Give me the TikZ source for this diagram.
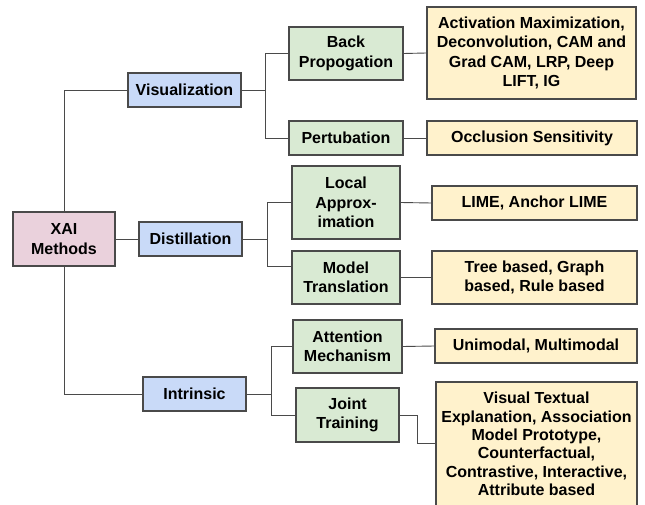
\documentclass[tikz,border=0pt]{standalone}
\usepackage{fontspec}
\setmainfont{Liberation Sans}
\definecolor{linec}{HTML}{4A4A4A}
\definecolor{rootfill}{HTML}{EAD1DC}
\definecolor{l1fill}{HTML}{C9DAF8}
\definecolor{l2fill}{HTML}{D9EAD3}
\definecolor{l3fill}{HTML}{FFF2CC}
\tikzset{
  box/.style={draw=linec, line width=1.1pt, inner sep=0pt, align=center,
    font=\fontsize{16}{19.5}\selectfont\bfseries},
  rootbox/.style={box, fill=rootfill},
  lonebox/.style={box, fill=l1fill},
  ltwobox/.style={box, fill=l2fill},
  lthreebox/.style={box, fill=l3fill},
  conn/.style={draw=linec, line width=0.9pt}
}
\begin{document}
\begin{tikzpicture}[x=1pt,y=-1pt]
\useasboundingbox (0,0) rectangle (645,505);
\clip (0,0) rectangle (645,505);
\fill[white] (0,0) rectangle (645,505);
% root
\node[rootbox, minimum width=102pt, minimum height=54pt] (xai) at (64,239) {XAI\\Methods};
% level 1
\node[lonebox, minimum width=113pt, minimum height=34pt] (vis) at (184.5,90) {Visualization};
\node[lonebox, minimum width=103pt, minimum height=34pt] (dist) at (190.5,239) {Distillation};
\node[lonebox, minimum width=103pt, minimum height=34pt] (intr) at (194.5,394) {Intrinsic};
% level 2
\node[ltwobox, minimum width=114pt, minimum height=53pt] (bp) at (346,53.5) {Back\\Propogation};
\node[ltwobox, minimum width=114pt, minimum height=34pt] (pert) at (346,138) {Pertubation};
\node[ltwobox, minimum width=108pt, minimum height=73pt] (la) at (346,202.5) {Local\\Approx-\\imation};
\node[ltwobox, minimum width=108pt, minimum height=53pt] (mt) at (346,277.5) {Model\\Translation};
\node[ltwobox, minimum width=109pt, minimum height=53pt] (am) at (347.5,346.5) {Attention\\Mechanism};
\node[ltwobox, minimum width=103pt, minimum height=54pt] (jt) at (347.5,415) {Joint\\Training};
% level 3
\node[lthreebox, minimum width=209pt, minimum height=92pt] (act) at (531.5,53) {Activation Maximization,\\Deconvolution, CAM and\\Grad CAM, LRP, Deep\\LIFT, IG};
\node[lthreebox, minimum width=210pt, minimum height=34pt] (occ) at (532,138) {Occlusion Sensitivity};
\node[lthreebox, minimum width=205pt, minimum height=34pt] (lime) at (534.5,203) {LIME, Anchor LIME};
\node[lthreebox, minimum width=205pt, minimum height=53pt] (tree) at (534.5,277.5) {Tree based, Graph\\based, Rule based};
\node[lthreebox, minimum width=202pt, minimum height=34pt] (uni) at (536,346) {Unimodal, Multimodal};
\node[lthreebox, minimum width=201pt, minimum height=124pt,
  font=\fontsize{16}{18.3}\selectfont\bfseries] (vt) at (536.5,444) {Visual Textual\\Explanation, Association\\Model Prototype,\\Counterfactual,\\Contrastive, Interactive,\\Attribute based};
% connectors root
\draw[conn] (xai.north) |- (vis.west);
\draw[conn] (xai.east) -- (dist.west);
\draw[conn] (xai.south) |- (intr.west);
% visualization
\coordinate (jv) at (265,90);
\draw[conn] (vis.east) -- (jv) |- (bp.west);
\draw[conn] (jv) |- (pert.west);
% distillation
\coordinate (jd) at (267,239);
\coordinate (mtin) at (292,266);
\draw[conn] (dist.east) -- (jd) |- (la.west);
\draw[conn] (jd) |- (mtin);
% intrinsic
\coordinate (ji) at (271,394);
\draw[conn] (intr.east) -- (ji) |- (am.west);
\draw[conn] (ji) |- (jt.west);
% level 2 to level 3
\draw[conn] (bp.east) -- (act.west);
\draw[conn] (pert.east) -- (occ.west);
\draw[conn] (la.east) -- (lime.west);
\draw[conn] (mt.east) -- (tree.west);
\draw[conn] (am.east) -- (uni.west);
\coordinate (jj) at (417,415);
\coordinate (vtin) at (436,443);
\draw[conn] (jt.east) -- (jj) |- (vtin);
\end{tikzpicture}
\end{document}
